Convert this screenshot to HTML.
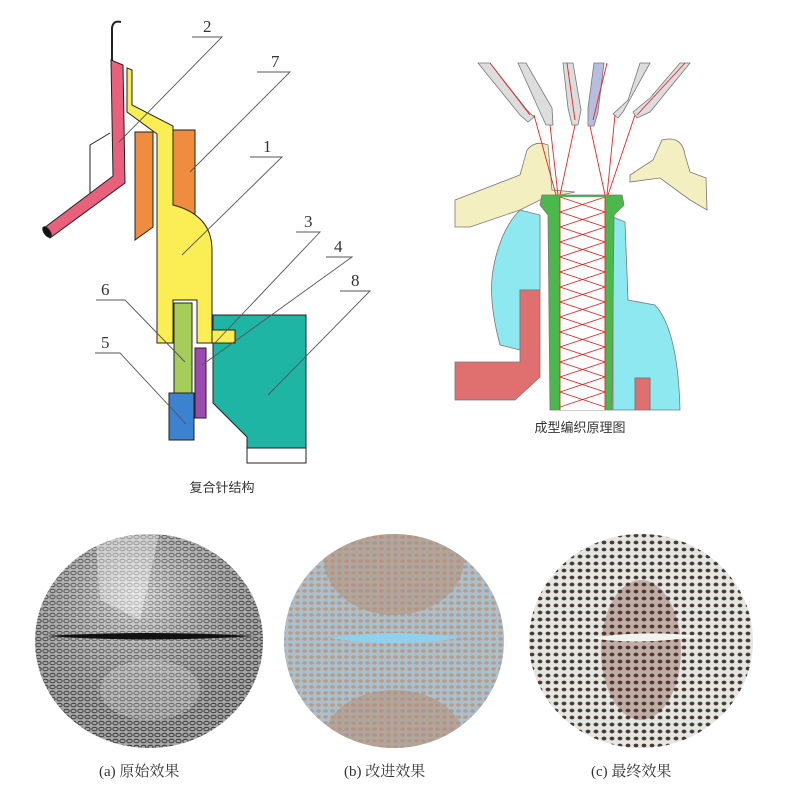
<!DOCTYPE html>
<html><head><meta charset="utf-8"><style>
html,body{margin:0;padding:0;background:#fff;}
svg{display:block;}
text{font-family:"Liberation Serif","Noto Serif CJK SC",serif;}
</style></head><body>
<svg width="800" height="810" viewBox="0 0 800 810" xmlns="http://www.w3.org/2000/svg">
<defs>
<pattern id="meshA" width="7" height="6" patternUnits="userSpaceOnUse">
<rect width="7" height="6" fill="#c4c4c4"/>
<ellipse cx="3.5" cy="3" rx="2.6" ry="1.8" fill="none" stroke="#3a3a3a" stroke-width="1"/>
</pattern>
<pattern id="meshB" width="7" height="6" patternUnits="userSpaceOnUse">
<rect width="7" height="6" fill="#a9c0cf"/>
<ellipse cx="3.5" cy="3" rx="2.4" ry="1.7" fill="#b99a86"/>
</pattern>
<pattern id="meshC" width="8" height="7" patternUnits="userSpaceOnUse">
<rect width="8" height="7" fill="#e4e6e2"/>
<ellipse cx="4" cy="3.5" rx="2.4" ry="1.9" fill="#4a3a36"/>
</pattern>
<radialGradient id="shadeA" cx="0.45" cy="0.3" r="0.7">
<stop offset="0" stop-color="#fff" stop-opacity="0.45"/>
<stop offset="1" stop-color="#000" stop-opacity="0.15"/>
</radialGradient>
<clipPath id="ca"><ellipse cx="149" cy="641" rx="114" ry="107"/></clipPath>
<clipPath id="cb"><ellipse cx="394" cy="641" rx="110" ry="107"/></clipPath>
<clipPath id="cc"><ellipse cx="641" cy="641" rx="112" ry="107"/></clipPath>
</defs>

<!-- ===== top-left diagram ===== -->
<g stroke="#222" stroke-width="1">
<polyline points="110,133 90,145 90,193 95,193" fill="none"/>
<path d="M112,62 L112,28 Q113,20 121,22" fill="none" stroke="#222" stroke-width="2"/>
<polygon points="111,60 123,65 125,183 50,238 44,228 113,176" fill="#e8607a"/>
<ellipse cx="47" cy="232" rx="3" ry="6" fill="#111" transform="rotate(-35 47 232)"/>
<polygon points="135,132 153,132 153,227 135,240" fill="#ef8c3e"/>
<rect x="173" y="130" width="22" height="84" fill="#ef8c3e"/>
<path d="M127,68 L132,70 L132,105 L173,126 L173,205 Q212,215 212,250 L212,330 L235,330 L235,343 L197,343 L197,300 L173,300 L173,343 L157,343 L157,134 L127,112 Z" fill="#fbee55"/>
<polygon points="213,315 306,315 306,448 247,448 247,437 213,403" fill="#1fb5a5"/>
<rect x="247" y="448" width="59" height="15" fill="#fff"/>
<rect x="174" y="303" width="18" height="90" fill="#a6cd5a"/>
<rect x="169" y="393" width="25" height="47" fill="#3b82d0"/>
<rect x="195" y="348" width="11" height="70" fill="#9b4bb0"/>
</g>
<rect x="212" y="330" width="23" height="13" fill="#fbee55" stroke="#222"/>
<g stroke="#555" stroke-width="0.9" fill="none">
<polyline points="192,37 222,37 119,142"/>
<polyline points="257,72 290,72 190,172"/>
<polyline points="250,157 282,157 182,255"/>
<polyline points="296,232 320,232 213,345"/>
<polyline points="326,257 352,257 202,365"/>
<polyline points="340,291 370,291 268,395"/>
<polyline points="96,300 125,300 185,362"/>
<polyline points="95,353 120,353 186,424"/>
</g>
<g font-size="17" fill="#333">
<text x="203" y="32">2</text>
<text x="271" y="67">7</text>
<text x="263" y="152">1</text>
<text x="304" y="227">3</text>
<text x="334" y="252">4</text>
<text x="351" y="286">8</text>
<text x="101" y="295">6</text>
<text x="101" y="348">5</text>
</g>
<text x="222" y="492" font-size="13" text-anchor="middle" fill="#333" style="font-family:'Liberation Sans','Noto Sans CJK SC',sans-serif">复合针结构</text>

<!-- ===== top-right diagram ===== -->
<g stroke="#777" stroke-width="0.8">
<polygon points="478,63 490,63 527,110 534,117 528,122 520,115" fill="#ddd"/>
<polygon points="518,63 526,63 552,108 553,125 546,125 540,112" fill="#ddd"/>
<polygon points="563,63 573,63 581,110 578,125 572,125 568,108" fill="#ddd"/>
<polygon points="594,63 604,63 598,112 594,126 588,126 588,108" fill="#b8bde0"/>
<polygon points="640,63 650,63 623,112 618,118 613,114 628,100" fill="#ddd"/>
<polygon points="680,63 690,63 650,112 637,118 633,112 650,98" fill="#ddd"/>
<path d="M455,200 L520,175 L527,150 Q535,140 548,145 L552,190 L575,192 L552,197 L540,200 L520,210 L470,227 L455,227 Z" fill="#f3efc0"/>
<path d="M706,178 L690,172 L685,155 Q682,135 662,140 L653,160 L630,175 L630,182 L660,178 L690,200 L707,210 Z" fill="#f3efc0"/>
<path d="M520,210 L540,215 L540,290 L520,290 L520,350 L500,345 Q488,300 493,270 Q500,230 520,210 Z" fill="#8ee8f0"/>
<polygon points="520,290 540,290 540,377 515,400 455,400 455,362 520,362" fill="#e07070"/>
<path d="M613,217 L625,222 L628,300 L655,305 Q678,330 680,410 L650,410 L650,378 L635,378 L635,410 L613,410 Z" fill="#8ee8f0"/>
<rect x="635" y="378" width="15" height="32" fill="#e07070"/>
<polygon points="542,195 622,195 624,205 614,215 612,410 550,410 548,215 540,205" fill="#4cb84c"/>
<rect x="560" y="197" width="45" height="213" fill="#fff" stroke="none"/>
</g>
<g stroke="#e02828" stroke-width="0.9" fill="none">
<path d="M560,197 L605,212 L560,227 L605,242 L560,257 L605,272 L560,287 L605,302 L560,317 L605,332 L560,347 L605,362 L560,377 L605,392 L560,407"/>
<path d="M605,197 L560,212 L605,227 L560,242 L605,257 L560,272 L605,287 L560,302 L605,317 L560,332 L605,347 L560,362 L605,377 L560,392 L605,407"/>
<line x1="560" y1="197" x2="560" y2="410"/><line x1="605" y1="197" x2="605" y2="410"/>
<line x1="534" y1="115" x2="556" y2="195"/><line x1="550" y1="125" x2="558" y2="195"/>
<line x1="575" y1="125" x2="560" y2="195"/><line x1="590" y1="126" x2="605" y2="195"/>
<line x1="615" y1="115" x2="607" y2="195"/><line x1="635" y1="115" x2="608" y2="195"/>
<line x1="490" y1="63" x2="530" y2="115"/><line x1="567" y1="63" x2="575" y2="120"/>
<line x1="607" y1="63" x2="593" y2="120"/><line x1="685" y1="63" x2="637" y2="115"/>
</g>
<text x="580" y="432" font-size="13" text-anchor="middle" fill="#333" style="font-family:'Liberation Sans','Noto Sans CJK SC',sans-serif">成型编织原理图</text>

<!-- ===== bottom photos ===== -->
<g clip-path="url(#ca)">
<rect x="30" y="530" width="240" height="225" fill="url(#meshA)"/>
<rect x="30" y="530" width="240" height="225" fill="url(#shadeA)"/>
<polygon points="95,530 160,530 140,620 100,600" fill="#fff" opacity="0.35"/>
<ellipse cx="150" cy="690" rx="50" ry="30" fill="#fff" opacity="0.2"/>
<path d="M45,636 Q150,630 255,636 Q150,643 45,636 Z" fill="#111"/>
</g>
<g clip-path="url(#cb)">
<rect x="280" y="530" width="230" height="225" fill="url(#meshB)"/>
<ellipse cx="394" cy="560" rx="70" ry="55" fill="#b48f78" opacity="0.55"/>
<ellipse cx="394" cy="740" rx="70" ry="50" fill="#b48f78" opacity="0.55"/>
<path d="M330,638 Q394,628 460,638 Q394,648 330,638 Z" fill="#8fd0ec"/>
</g>
<g clip-path="url(#cc)">
<rect x="525" y="530" width="235" height="225" fill="url(#meshC)"/>
<ellipse cx="641" cy="650" rx="40" ry="70" fill="#6a2a20" opacity="0.3"/>
<path d="M590,638 Q641,630 700,636 Q641,646 590,638 Z" fill="#f2f4f0"/>
</g>
<g font-size="15" fill="#333">
<text x="99" y="776">(a) 原始效果</text>
<text x="344" y="776">(b) 改进效果</text>
<text x="591" y="776">(c) 最终效果</text>
</g>
</svg>
</body></html>
